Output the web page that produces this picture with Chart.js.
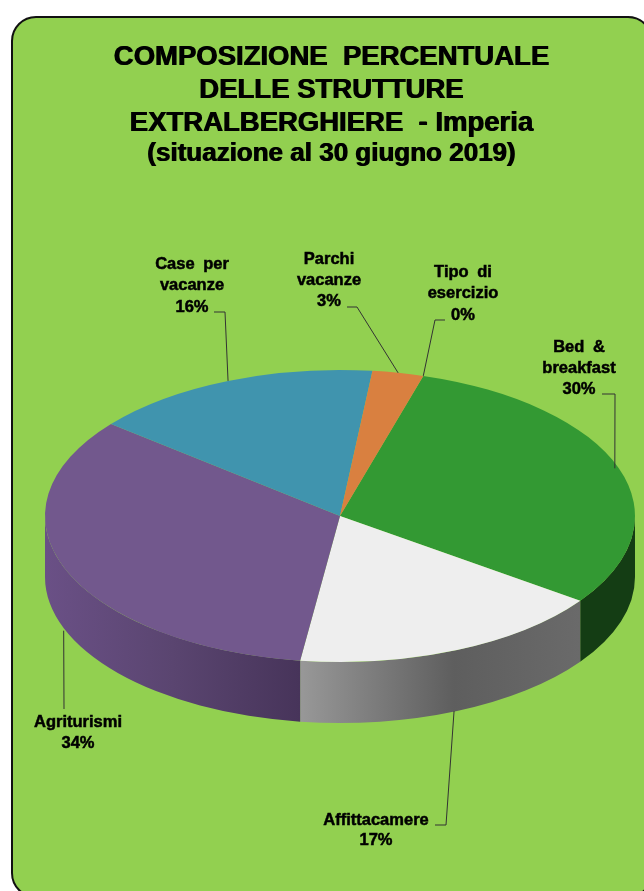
<!DOCTYPE html>
<html lang="it">
<head>
<meta charset="utf-8">
<title>Composizione percentuale delle strutture extralberghiere - Imperia</title>
<script src="https://cdn.jsdelivr.net/npm/chart.js@4/dist/chart.umd.min.js"></script>
<style>
  html, body { margin: 0; padding: 0; background: #fff; overflow: hidden; }
  canvas { display: block; }
</style>
</head>
<body>
<canvas id="pieChart" width="644" height="891"></canvas>
<script>
// Dati
const categories = ['Tipo di esercizio', 'Bed & breakfast', 'Affittacamere', 'Agriturismi', 'Case per vacanze', 'Parchi vacanze'];
const shares = [0, 30.3, 17.3, 33.7, 15.9, 2.8];
const titleLines = ['COMPOSIZIONE  PERCENTUALE', 'DELLE STRUTTURE', 'EXTRALBERGHIERE  - Imperia'];
const subtitleLine = '(situazione al 30 giugno 2019)';

// Colori delle fette e del bordo 3D (stop da sinistra a destra)
const sliceColors = ['#5b8ec4', '#339933', '#eeeeee', '#72588d', '#4094ae', '#d98040'];
const wallStops = [
  [],
  [[0, '#143d14'], [1, '#143d14']],
  [[0, '#989898'], [0.55, '#5e5e5e'], [1, '#6a6a6a']],
  [[0, '#6a5086'], [0.5, '#5a4570'], [1, '#47345a']],
  [],
  []
];

// Posizione del disco sulla pagina
const pie = { x: 340, y: 516, radius: 295, tilt: 0.495, depth: 61 };

// Etichette: righe di testo, centro, prima riga, passo e linea guida
const callouts = [
  { lines: ['Tipo di', 'esercizio'], x: 463, y: 272, step: 21.5, leader: [[445, 320], [435, 320]] },
  { lines: ['Bed &', 'breakfast'], x: 579, y: 347, step: 21, leader: [[602, 394], [615, 394]], endDx: -4 },
  { lines: ['Affittacamere'], x: 376, y: 820, step: 20, leader: [[435, 825], [446, 825]], drop: true, endDx: -3 },
  { lines: ['Agriturismi'], x: 78, y: 722, step: 21, leader: [[64, 709]], drop: true, endDx: -2 },
  { lines: ['Case per', 'vacanze'], x: 192, y: 264, step: 21.5, leader: [[214, 312], [225, 312]] },
  { lines: ['Parchi', 'vacanze'], x: 329, y: 259, step: 21, leader: [[347, 307], [357, 307]] }
];

function edgePoint(arc, angle) {
  return {
    x: pie.x + arc.outerRadius * Math.cos(angle),
    y: pie.y + arc.outerRadius * pie.tilt * Math.sin(angle)
  };
}

const pie3d = {
  id: 'pie3d',
  beforeDraw(chart) {
    const ctx = chart.ctx;
    ctx.save();
    ctx.fillStyle = '#ffffff';
    ctx.fillRect(0, 0, chart.width, chart.height);
    ctx.beginPath();
    ctx.roundRect(12, 17, 640, 880, 24);
    ctx.fillStyle = '#92d050';
    ctx.fill();
    ctx.lineWidth = 2;
    ctx.strokeStyle = '#111111';
    ctx.stroke();
    ctx.restore();
    // ripassa il titolo, come nel testo molto marcato dell'originale
    ctx.shadowColor = '#000000';
    ctx.shadowOffsetX = 1;
  },
  beforeDatasetsDraw(chart) {
    const ctx = chart.ctx;
    ctx.shadowColor = 'transparent';
    ctx.shadowOffsetX = 0;
    const arcs = chart.getDatasetMeta(0).data;

    // parete laterale: solo la parte anteriore del disco
    arcs.forEach((arc, i) => {
      if (!wallStops[i].length) return;
      [0, 2 * Math.PI].forEach(turn => {
        const a0 = Math.max(arc.startAngle, turn);
        const a1 = Math.min(arc.endAngle, turn + Math.PI);
        if (a1 <= a0) return;
        const xs = [edgePoint(arc, a0).x, edgePoint(arc, a1).x];
        const grad = ctx.createLinearGradient(Math.min(...xs), 0, Math.max(...xs), 0);
        wallStops[i].forEach(s => grad.addColorStop(s[0], s[1]));
        const rx = arc.outerRadius;
        const ry = rx * pie.tilt;
        ctx.beginPath();
        ctx.ellipse(pie.x, pie.y, rx, ry, 0, a0, a1);
        ctx.ellipse(pie.x, pie.y + pie.depth, rx, ry, 0, a1, a0, true);
        ctx.closePath();
        ctx.fillStyle = grad;
        ctx.fill();
      });
    });

    // schiaccia il disco disegnato da Chart.js
    const first = arcs[0];
    ctx.save();
    ctx.translate(pie.x, pie.y);
    ctx.scale(1, pie.tilt);
    ctx.translate(-first.x, -first.y);
  },
  afterDatasetsDraw(chart) {
    const ctx = chart.ctx;
    ctx.restore();
    const arcs = chart.getDatasetMeta(0).data;
    const values = chart.data.datasets[0].data;

    arcs.forEach((arc, i) => {
      const c = callouts[i];
      const mid = (arc.startAngle + arc.endAngle) / 2;
      const end = edgePoint(arc, mid);
      if (c.drop) end.y += pie.depth;
      end.x += c.endDx || 0;

      ctx.save();
      ctx.strokeStyle = '#333333';
      ctx.lineWidth = 1;
      ctx.beginPath();
      c.leader.forEach((p, k) => (k ? ctx.lineTo(p[0], p[1]) : ctx.moveTo(p[0], p[1])));
      ctx.lineTo(end.x, end.y);
      ctx.stroke();

      ctx.font = 'bold 16.5px "Liberation Sans", Arial, sans-serif';
      ctx.wordSpacing = '4px';
      ctx.textAlign = 'center';
      ctx.textBaseline = 'middle';
      ctx.fillStyle = '#000000';
      ctx.strokeStyle = '#000000';
      ctx.lineWidth = 0.5;
      const lines = c.lines.concat(Math.round(values[i]) + '%');
      lines.forEach((txt, k) => {
        ctx.fillText(txt, c.x, c.y + k * c.step);
        ctx.strokeText(txt, c.x, c.y + k * c.step);
      });
      ctx.restore();
    });
  }
};

new Chart(document.getElementById('pieChart'), {
  type: 'pie',
  data: {
    labels: categories,
    datasets: [{
      data: shares,
      backgroundColor: sliceColors,
      borderWidth: 0,
      radius: pie.radius,
      clip: false
    }]
  },
  options: {
    responsive: false,
    animation: false,
    events: [],
    rotation: 16.4,
    layout: { padding: { left: 33, right: 15, top: 0, bottom: 0 } },
    plugins: {
      legend: { display: false },
      tooltip: { enabled: false },
      title: {
        display: true,
        text: titleLines,
        color: '#000000',
        font: { family: '"Liberation Sans", Arial, sans-serif', size: 27.5, weight: 'bold', lineHeight: 1.2 },
        padding: { top: 40.5, bottom: 0 }
      },
      subtitle: {
        display: true,
        text: subtitleLine,
        color: '#000000',
        font: { family: '"Liberation Sans", Arial, sans-serif', size: 26, weight: 'bold', lineHeight: 1.12 },
        padding: { top: 0, bottom: 10 }
      }
    }
  },
  plugins: [pie3d]
});
</script>
</body>
</html>
